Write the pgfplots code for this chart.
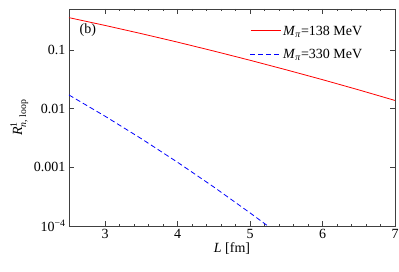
\documentclass[border=0pt]{standalone}
\usepackage{pgfplots}
\pgfplotsset{compat=1.18}
\usepackage{amsmath}
\usepackage{fontspec}
\setmainfont{Liberation Serif}
\newcommand{\lf}{\fontsize{14}{16}\selectfont}
\begin{document}
\begin{tikzpicture}
\begin{axis}[
  scale only axis,
  width=326pt, height=217pt,
  xmin=2.5, xmax=7,
  ymode=log, ymin=1e-4, ymax=0.5,
  xtick={3,4,5,6,7},
  minor x tick num=4,
  ytick={0.1,0.01,0.001,0.0001},
  yticklabels={0.1,0.01,0.001,10\textsuperscript{−4}},
  /pgf/number format/assume math mode=true,
  tick align=inside,
  major tick length=5pt, minor tick length=2.5pt,
  every tick/.style={color=black!75, line width=0.6pt},
  axis line style={color=black!75, line width=0.8pt},
  every tick label/.append style={font=\lf},
  xlabel={\textit{L} [fm]},
  ylabel={\textit{R}$^{\text{1}}_{\text{\textit{n}, loop}}$},
  label style={font=\lf},
  xlabel style={yshift=3pt},
  ylabel style={yshift=-1pt},
  legend style={draw=none, fill=none, at={(0.545,0.7465)}, anchor=south west, row sep=8pt},
  legend cell align=left,
  clip=true,
]
\addplot[color=red, line width=0.8pt,
  legend image code/.code={\node[inner sep=0pt, outer sep=0pt, anchor=west] at (0pt,0pt)
    {\color{red}\tikz\draw[red, line width=0.8pt] (0pt,0pt) -- (30pt,0pt);};}] coordinates {
(2.5,0.356) (3,0.262) (3.5,0.190) (4,0.136) (4.5,0.0959) (5,0.0668)
(5.5,0.0459) (6,0.0312) (6.5,0.0209) (7,0.0138)};
\addlegendentry{\lf\textit{M}\textsubscript{\textit{π}}=138 MeV}
\addplot[color=blue, line width=0.8pt, dash pattern=on 5pt off 3pt,
  legend image code/.code={\color{blue}\draw[blue, line width=0.8pt, dash pattern=on 5pt off 3pt] (0pt,0pt) -- (30pt,0pt);}] coordinates {
(2.5,0.0171) (3,0.00741) (3.5,0.00307) (4,0.001216) (4.5,0.000461)
(5,0.000167) (5.25,0.000099) (5.3,0.000088)};
\addlegendentry{\lf\textit{M}\textsubscript{\textit{π}}=330 MeV}
\node[font=\lf] at (axis cs:2.76,0.215) {(b)};
\end{axis}
\pgfresetboundingbox
\path (current axis.south west) ++(-69pt,-46pt) rectangle ++(399pt,272pt);
\end{tikzpicture}
\end{document}
